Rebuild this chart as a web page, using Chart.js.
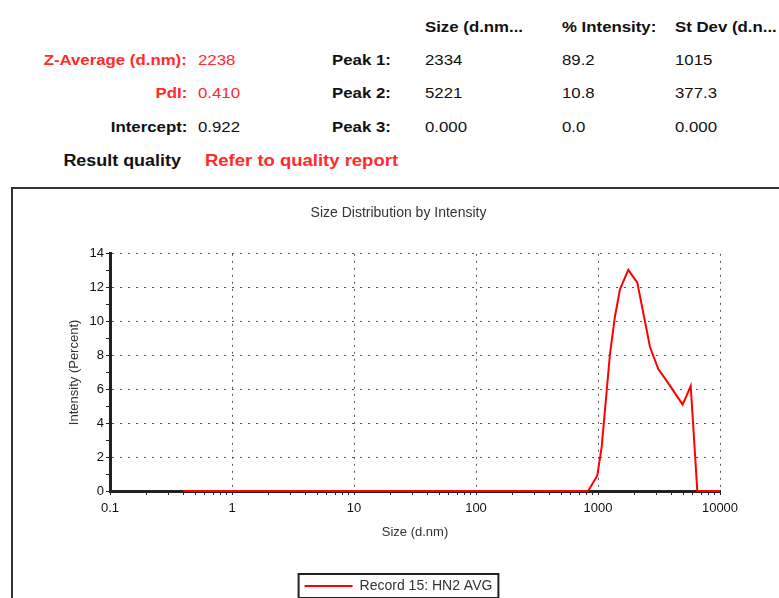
<!DOCTYPE html>
<html>
<head>
<meta charset="utf-8">
<script src="https://cdn.jsdelivr.net/npm/chart.js@4.4.0/dist/chart.umd.min.js"></script>
<style>
  body { margin: 0; background: #fff; width: 779px; height: 598px; overflow: hidden; position: relative;
         font-family: "Liberation Sans", Arial, sans-serif; }
  .t { position: absolute; white-space: nowrap; font-size: 15px; line-height: 20px; color: #111;
       transform: scaleX(1.12); transform-origin: left center; }
  .r { transform-origin: right center; text-align: right; }
  .b { font-weight: bold; }
  .red { color: #ff2a2a; }
  #frame { position: absolute; left: 11px; top: 187px; width: 820px; height: 500px; border: 2px solid #333; }
  #chart { position: absolute; left: 0; top: 0; }
</style>
</head>
<body>
<div id="header"></div>
<div id="frame"></div>
<canvas id="chart" width="779" height="598"></canvas>
<script>
// measurement summary
const summaryNames = ['Z-Average (d.nm):', 'PdI:', 'Intercept:'];
const summaryValues = ['2238', '0.410', '0.922'];
const peakNames = ['Peak 1:', 'Peak 2:', 'Peak 3:'];
const peakSize = ['2334', '5221', '0.000'];
const peakIntensity = ['89.2', '10.8', '0.0'];
const peakStDev = ['1015', '377.3', '0.000'];

// size distribution (d.nm vs % intensity)
const sizes = [0.4, 1, 10, 100, 830, 986, 1072, 1254, 1377, 1514, 1771, 2100, 2668, 3120, 3656, 4943, 5754, 6518, 10000];
const intensity = [0, 0, 0, 0, 0, 0.9, 2.6, 8.1, 10.3, 11.9, 13.05, 12.3, 8.5, 7.2, 6.5, 5.1, 6.2, 0, 0];

const xTickValues = [0.1, 1, 10, 100, 1000, 10000];
const xTickLabels = ['0.1', '1', '10', '100', '1000', '10000'];
const yTickLabels = [0, 2, 4, 6, 8, 10, 12, 14];
const yMinorTicks = [1, 3, 5, 7, 9, 11, 13];

// header text
const header = document.getElementById('header');
function addText(text, x, cy, cls, right) {
    const s = document.createElement('span');
    s.className = 't ' + (cls || '') + (right ? ' r' : '');
    s.textContent = text;
    s.style.top = (cy - 10) + 'px';
    if (right) s.style.right = (779 - x) + 'px';
    else s.style.left = x + 'px';
    header.appendChild(s);
    return s;
}
addText('Size (d.nm...', 425, 27, 'b');
addText('% Intensity:', 562, 27, 'b');
addText('St Dev (d.n...', 675, 27, 'b');
const rowY = [60, 93, 127];
summaryNames.forEach((name, i) => {
    const c = i < 2 ? ' red' : '';
    addText(name, 187, rowY[i], 'b' + c, true);
    addText(summaryValues[i], 198, rowY[i], c);
    addText(peakNames[i], 332, rowY[i], 'b');
    addText(peakSize[i], 425, rowY[i]);
    addText(peakIntensity[i], 562, rowY[i]);
    addText(peakStDev[i], 675, rowY[i]);
});
addText('Result quality', 181, 161, 'b', true).style.fontSize = '16px';
addText('Refer to quality report', 205, 160, 'b red').style.fontSize = '16.5px';

// box round the legend
const legendFrame = {
    id: 'legendFrame',
    afterDraw(chart) {
        const hb = chart.legend.legendHitBoxes[0];
        if (!hb) return;
        const ctx = chart.ctx;
        ctx.save();
        ctx.strokeStyle = '#222';
        ctx.lineWidth = 2;
        ctx.strokeRect(hb.left - 6, hb.top - 5, hb.width + 12, hb.height + 10);
        ctx.restore();
    }
};

Chart.defaults.font.family = '"Liberation Sans", Arial, sans-serif';

const ctx = document.getElementById('chart').getContext('2d');
new Chart(ctx, {
    type: 'line',
    data: {
        datasets: [{
            label: 'Record 15: HN2 AVG',
            data: sizes.map((s, i) => ({x: s, y: intensity[i]})),
            borderColor: '#ff0000',
            backgroundColor: '#ff0000',
            borderWidth: 2,
            pointRadius: 0,
            tension: 0,
            clip: false
        }]
    },
    options: {
        responsive: false,
        animation: false,
        layout: {padding: {left: 77, right: 59, top: 190, bottom: -5}},
        plugins: {
            title: {
                display: true,
                text: 'Size Distribution by Intensity',
                color: '#333',
                font: {size: 14, weight: 'normal'},
                padding: {top: 15, bottom: 32}
            },
            legend: {
                position: 'bottom',
                labels: {boxWidth: 48, boxHeight: 0, color: '#333', font: {size: 14}, padding: 0}
            },
            tooltip: {enabled: false}
        },
        scales: {
            x: {
                type: 'logarithmic',
                min: 0.1,
                max: 10000,
                afterBuildTicks: scale => {
                    const t = [];
                    for (let d = 0; d < xTickValues.length - 1; d++) {
                        for (let m = 1; m < 10; m++) t.push({value: xTickValues[d] * m});
                    }
                    t.push({value: 10000});
                    scale.ticks = t;
                },
                afterFit: scale => { scale.height = 88; },
                ticks: {
                    autoSkip: false,
                    maxRotation: 0,
                    color: '#111',
                    font: {size: 13},
                    padding: 6,
                    callback: function (value) {
                        const i = xTickValues.findIndex(v => Math.abs(v - value) < v * 1e-6);
                        return i >= 0 ? xTickLabels[i] : '';
                    }
                },
                grid: {
                    z: -1,
                    color: c => {
                        if (!c.tick) return 'transparent';
                        const major = xTickValues.some(v => Math.abs(v - c.tick.value) < v * 1e-6);
                        return major && c.tick.value > 0.1 ? '#555' : 'transparent';
                    },
                    tickColor: '#222',
                    tickLength: 4
                },
                border: {z: -1, color: '#222', width: 3, dash: [2, 5]},
                title: {display: true, text: 'Size (d.nm)', color: '#333', font: {size: 13}, padding: {top: 4, bottom: 39}}
            },
            y: {
                min: 0,
                max: 14,
                afterBuildTicks: scale => {
                    scale.ticks = yTickLabels.concat(yMinorTicks).sort((a, b) => a - b).map(v => ({value: v}));
                },
                afterFit: scale => { scale.width = 33; },
                ticks: {
                    autoSkip: false,
                    color: '#111',
                    font: {size: 13},
                    padding: 2,
                    callback: v => yTickLabels.includes(v) ? String(v) : ''
                },
                grid: {
                    z: -1,
                    color: c => (c.tick && yTickLabels.includes(c.tick.value) && c.tick.value > 0) ? '#555' : 'transparent',
                    tickColor: '#222',
                    tickLength: 4
                },
                border: {z: -1, color: '#222', width: 3, dash: [2, 6]},
                title: {display: true, text: 'Intensity (Percent)', color: '#333', font: {size: 13}, padding: {top: -10, bottom: 0}}
            }
        }
    },
    plugins: [legendFrame]
});
</script>
</body>
</html>
